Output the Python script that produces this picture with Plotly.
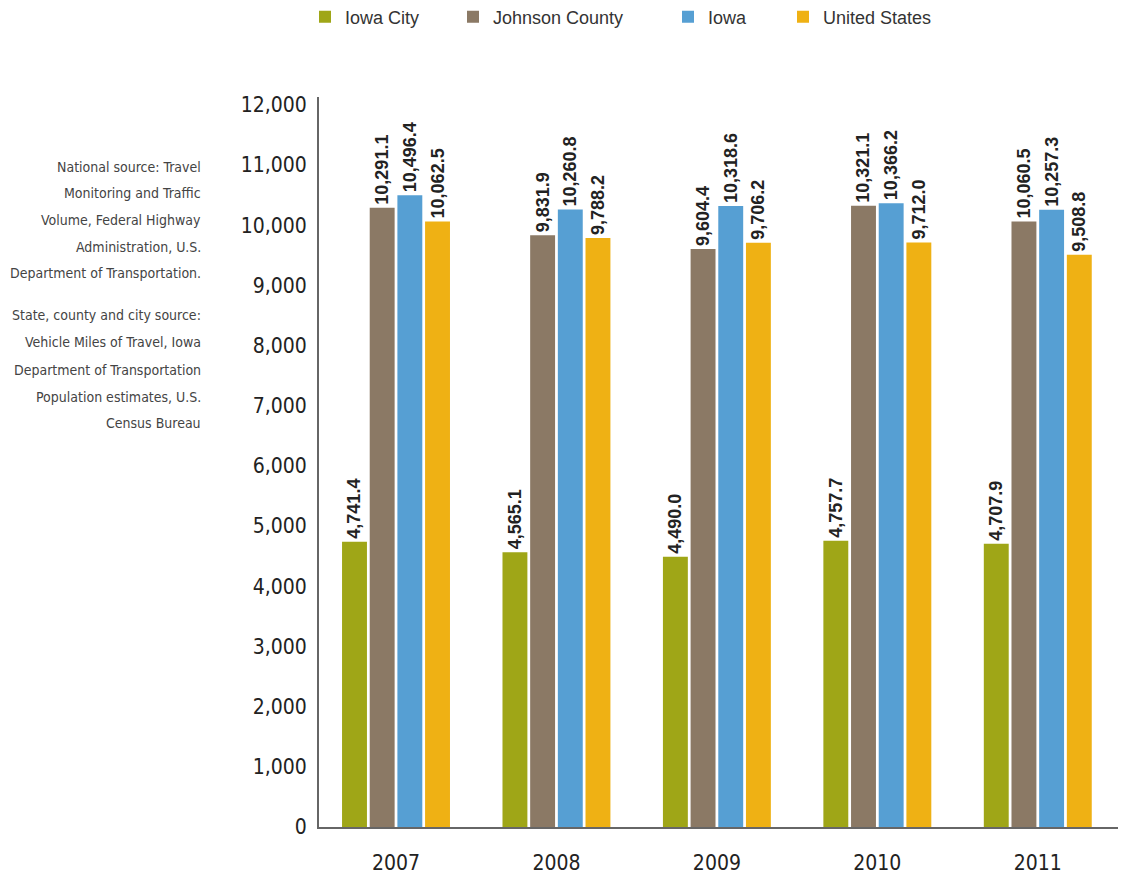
import plotly.graph_objects as go

years = ["2007", "2008", "2009", "2010", "2011"]
series_names = ["Iowa City", "Johnson County", "Iowa", "United States"]
iowa_city = [4741.4, 4565.1, 4490.0, 4757.7, 4707.9]
johnson_county = [10291.1, 9831.9, 9604.4, 10321.1, 10060.5]
iowa = [10496.4, 10260.8, 10318.6, 10366.2, 10257.3]
united_states = [10062.5, 9788.2, 9706.2, 9712.0, 9508.8]
colors = ["#9fa617", "#8b7965", "#569fd3", "#efb114"]

source_lines = [
    "National source: Travel",
    "Monitoring and Traffic",
    "Volume, Federal Highway",
    "Administration, U.S.",
    "Department of Transportation.",
    "State, county and city source:",
    "Vehicle Miles of Travel, Iowa",
    "Department of Transportation",
    "Population estimates, U.S.",
    "Census Bureau",
]
source_line_px = [167, 193, 220, 247, 273, 315, 342, 370, 397, 423]

COND = "DejaVu Sans Condensed, DejaVu Sans, sans-serif"
SANS = "Liberation Sans, Arial, sans-serif"

W, H = 1127, 879
left, right, top, bottom = 319, 9, 97, 52
plot_w = W - left - right
plot_h = H - top - bottom

# legend entry positions (text start in px)
legend_text_px = [345, 493, 708, 823]
legend_ids = ["legend", "legend2", "legend3", "legend4"]

fig = go.Figure()
for name, vals, col, lid in zip(series_names, [iowa_city, johnson_county, iowa, united_states], colors, legend_ids):
    fig.add_trace(go.Bar(
        name=name, x=years, y=vals, marker=dict(color=col, line=dict(width=0)),
        text=[f"{v:,.1f}" for v in vals], textposition="outside", textangle=-90,
        constraintext="none",
        textfont=dict(family=SANS, size=18, color="#222222", weight="bold"),
        cliponaxis=False, legend=lid, showlegend=True,
    ))

annotations = []
for line, py in zip(source_lines, source_line_px):
    annotations.append(dict(
        text=line, xref="paper", yref="paper", x=(203 - left) / plot_w, y=(H - bottom - py) / plot_h,
        xanchor="right", yanchor="middle", showarrow=False,
        font=dict(family=COND, size=14, color="#444444"),
    ))

layout = dict(
    width=W, height=H,
    showlegend=True,
    margin=dict(l=left, r=right, t=top, b=bottom, autoexpand=False),
    paper_bgcolor="white", plot_bgcolor="white",
    barmode="group", bargap=0.31, bargroupgap=0.1,
    xaxis=dict(range=[-0.48, 4.5], showline=True, linecolor="#666666", linewidth=2,
               showgrid=False, ticks="", ticklabelstandoff=16, automargin=False,
               tickfont=dict(family=COND, size=21, color="#222222")),
    yaxis=dict(range=[0, 12130], showline=True, linecolor="#666666", linewidth=2,
               showgrid=False, zeroline=False, ticks="", tickformat=",d", dtick=1000,
               ticklabelstandoff=6, automargin=False,
               tickfont=dict(family=COND, size=21, color="#222222")),
    annotations=annotations,
)
for lid, tx in zip(legend_ids, legend_text_px):
    layout[lid] = dict(
        visible=True,
        orientation="h", x=(tx - 40 - left) / plot_w, xanchor="left",
        yref="container", y=1 - 17 / H, yanchor="middle",
        font=dict(family=SANS, size=18, color="#333333"),
        bgcolor="rgba(0,0,0,0)", borderwidth=0,
    )
fig.update_layout(**layout)

fig.write_html("out.html")
